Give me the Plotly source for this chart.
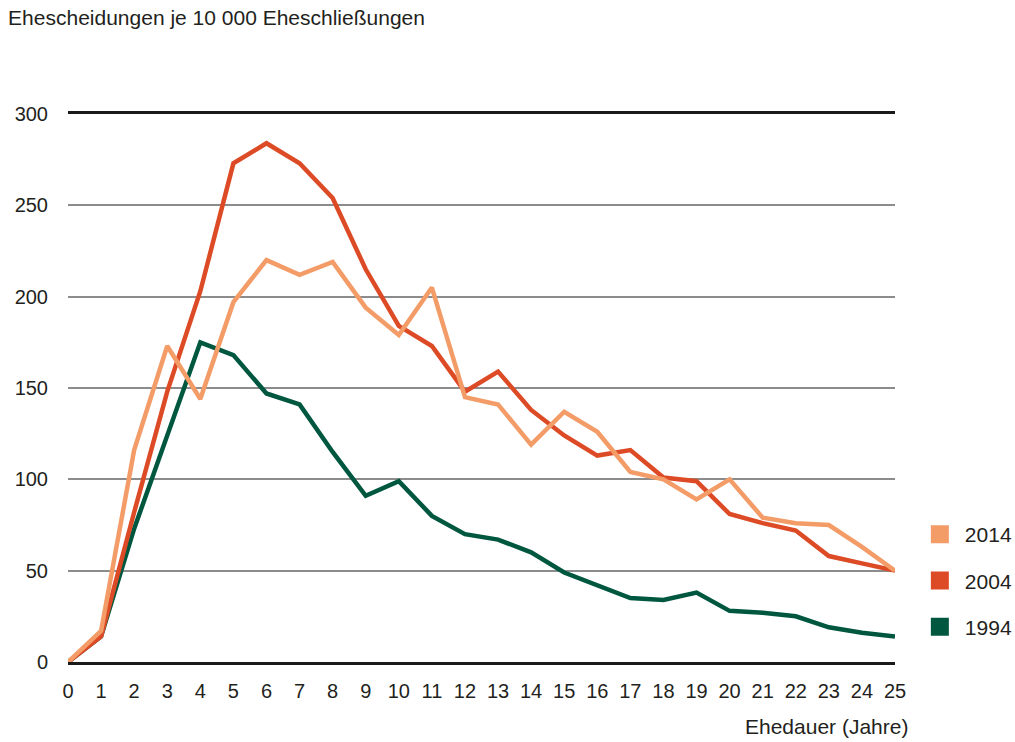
import plotly.graph_objects as go

years = list(range(0, 26))
s2014 = [0, 17, 116, 173, 144, 197, 220, 212, 219, 194, 179, 205, 145, 141, 119, 137, 126, 104, 100, 89, 100, 79, 76, 75, 63, 50]
s2004 = [0, 14, 82, 148, 203, 273, 284, 273, 254, 215, 184, 173, 148, 159, 138, 124, 113, 116, 101, 99, 81, 76, 72, 58, 54, 50]
s1994 = [0, 14, 73, 124, 175, 168, 147, 141, 115, 91, 99, 80, 70, 67, 60, 49, 42, 35, 34, 38, 28, 27, 25, 19, 16, 14]
y_ticks = [0, 50, 100, 150, 200, 250, 300]

series = [("1994", s1994, "#00573F"), ("2004", s2004, "#DD4B26"), ("2014", s2014, "#F39C68")]

FONT = "Liberation Sans, Arial, sans-serif"
TXT = "#231f20"

fig = go.Figure()
for name, vals, col in series:
    fig.add_trace(go.Scatter(x=years, y=vals, mode="lines", name=name,
                             line=dict(color=col, width=4.5), showlegend=False,
                             hoverinfo="x+y+name"))
for name, vals, col in reversed(series):
    fig.add_trace(go.Scatter(x=[None], y=[None], mode="markers", name=name,
                             legendgroup=name,
                             marker=dict(symbol="square", size=16, color=col,
                                         line=dict(color=col, width=2)),
                             showlegend=True))

fig.update_layout(
    width=1015, height=742,
    margin=dict(l=68, r=120, t=114, b=80, autoexpand=False),
    paper_bgcolor="white", plot_bgcolor="white",
    font=dict(family=FONT, size=20, color=TXT),
    title=dict(text="Ehescheidungen je 10 000 Eheschließungen", x=0.008, xanchor="left",
               xref="container", y=0.986, yanchor="top", yref="container",
               pad=dict(l=0, t=0),
               font=dict(family=FONT, size=21, color=TXT)),
    xaxis=dict(range=[0, 25], tickvals=years, ticktext=[str(v) for v in years],
               showgrid=False, zeroline=False, showline=True, mirror=True,
               linecolor="#1a1a1a", linewidth=3, ticks="", ticklabelstandoff=9,
               automargin=False,
               tickfont=dict(family=FONT, size=20, color=TXT)),
    yaxis=dict(range=[0, 300], tickvals=y_ticks, showgrid=True, gridcolor="#8c8c8c",
               gridwidth=2, zeroline=False, showline=False, ticks="",
               automargin=False,
               ticklabelstandoff=19, tickfont=dict(family=FONT, size=20, color=TXT)),
    legend=dict(x=1.024, xanchor="left", y=0.27, yanchor="top",
                traceorder="grouped", tracegroupgap=16,
                font=dict(family=FONT, size=21, color=TXT), itemwidth=40),
    annotations=[dict(text="Ehedauer (Jahre)", xref="paper", yref="paper",
                      x=1.018, y=-0.118, xanchor="right", yanchor="middle",
                      showarrow=False, font=dict(family=FONT, size=21, color=TXT))],
)

fig.write_html("out.html", config={"displayModeBar": False},
               post_script="document.body.style.margin='0';")
